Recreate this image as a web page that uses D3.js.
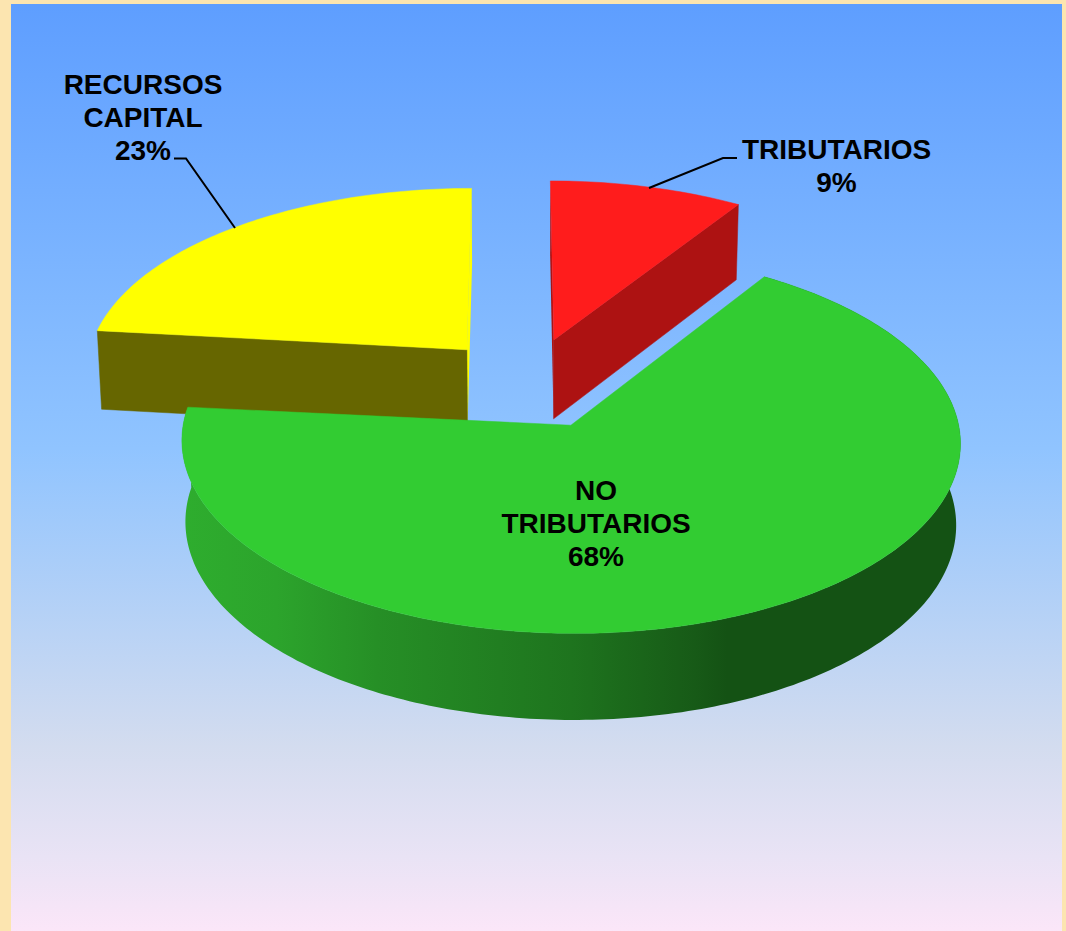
<!DOCTYPE html>
<html><head><meta charset="utf-8">
<script src="https://cdn.jsdelivr.net/npm/d3@7"></script>
<style>html,body{margin:0;padding:0;background:#FCE5B0;overflow:hidden}svg{display:block}
text{font-family:"Liberation Sans",Arial,sans-serif;font-weight:700;font-size:28px;fill:#000;text-anchor:middle}</style>
</head><body><script>
// ---- data
const categories = ["TRIBUTARIOS", "NO TRIBUTARIOS", "RECURSOS CAPITAL"];
const values = [9, 68, 23];
const percentLabels = ["9%", "68%", "23%"];

// ---- style and layout
const W = 1066, H = 931;
const topColors = ["#FF1C1C", "#32CC32", "#FFFF00"];
const sideColors = ["#AD1212", null, "#666600"];
const nudgeX = [-3.5, 0.5, -5];
const nudgeY = [1, 1, 1];
const apexShift = [[1.5, -4], [0, 0], [0, -3]];
const radiusScale = [1, 0.9935, 1];
const angleTrim = [[0, 0], [0.5, 1.7], [0, 0]]; // degrees taken off start and end of the drawn sweep
const labelLines = [["TRIBUTARIOS"], ["NO", "TRIBUTARIOS"], ["RECURSOS", "CAPITAL"]];
const labelAnchor = [[836.5, 159], [596, 500], [143, 94]];
const lineGap = 33;
const cx = 531, cy = 384, R = 383, tilt = 184, persp = 0.087, depth = 80, depthPersp = 0.7, explode = 0.237, shrink = 0.01;

const svg = d3.select("body").append("svg").attr("width", W).attr("height", H);
const defs = svg.append("defs");
const bg = defs.append("linearGradient").attr("id", "bg").attr("x1", 0).attr("x2", 0).attr("y1", 0).attr("y2", 1);
[[0, "#5E9EFF"], [0.48, "#90C4FF"], [0.8, "#D3DCEF"], [0.92, "#E9E3F5"], [1, "#FBE6F8"]].forEach(s => bg.append("stop").attr("offset", s[0]).attr("stop-color", s[1]));
const wall = defs.append("linearGradient").attr("id", "wall").attr("gradientUnits", "userSpaceOnUse")
  .attr("x1", 183).attr("x2", 960).attr("y1", 0).attr("y2", 0);
[[0, "#2EAD2E"], [0.12, "#2CA42C"], [0.25, "#268F26"], [0.5, "#1E741E"], [0.66, "#175A17"], [0.7, "#145214"], [1, "#145214"]]
  .forEach(s => wall.append("stop").attr("offset", s[0]).attr("stop-color", s[1]));

svg.append("rect").attr("x", 11).attr("y", 4).attr("width", 1051).attr("height", 927).attr("fill", "url(#bg)");

// ---- geometry: d3.pie gives the angles, a perspective projection places them
const arcs = d3.pie().sort(null)(values);
const sx = d3.scaleLinear().domain([0, 1]).range([0, R]);
const sy = d3.scaleLinear().domain([0, 1]).range([0, tilt]);
const rad = d => d * Math.PI / 180;

function project(u, v, down) {
  const s = 1 / (1 + persp * v);
  const k = down ? 1 - shrink : 1;
  return [cx + sx(u) * s * k, cy - sy(v) * s + (down ? depth * (1 + (s - 1) * depthPersp) : 0)];
}
function slice(a, i) {
  const mid = (a.startAngle + a.endAngle) / 2;
  const ou = explode * Math.sin(mid), ov = explode * Math.cos(mid);
  const start = a.startAngle + rad(angleTrim[i][0]), end = a.endAngle - rad(angleTrim[i][1]);
  const pt = (th, r, down) => {
    const rr = r * radiusScale[i];
    const p = project(ou + rr * Math.sin(th), ov + rr * Math.cos(th), down);
    const ax = r === 0 ? apexShift[i][0] : 0, ay = r === 0 ? apexShift[i][1] : 0;
    return [p[0] + nudgeX[i] + ax, p[1] + nudgeY[i] + ay];
  };
  const steps = Math.ceil((end - start) * 60);
  const ths = d3.range(steps + 1).map(k => start + (end - start) * k / steps);
  return {pt, ths};
}
const line = d3.line();
function poly(pts) { return line(pts) + "Z"; }

function drawSlice(i) {
  const a = arcs[i], {pt, ths} = slice(a, i);
  const g = svg.append("g");
  const apex = pt(0, 0, false), apexD = pt(0, 0, true);
  if (i === 0) {
    g.append("path").attr("d", poly([apex, apexD, pt(a.endAngle, 1, true), pt(a.endAngle, 1, false)]))
      .attr("fill", sideColors[0]).attr("stroke", sideColors[0]).attr("stroke-width", 0.5);
    g.append("path").attr("d", poly([apex, apexD, pt(a.startAngle, 1, true), pt(a.startAngle, 1, false)]))
      .attr("fill", sideColors[0]);
  }
  if (i === 2) {
    g.append("path").attr("d", poly([apex, apexD, pt(a.endAngle, 1, true), pt(a.endAngle, 1, false)]))
      .attr("fill", topColors[2]);
    g.append("path").attr("d", poly([apex, apexD, pt(a.startAngle, 1, true), pt(a.startAngle, 1, false)]))
      .attr("fill", sideColors[2]).attr("stroke", sideColors[2]).attr("stroke-width", 0.5);
  }
  if (i === 1) {
    const topPts = ths.map(t => pt(t, 1, false));
    const botPts = ths.map(t => pt(t, 1, true)).reverse();
    g.append("path").attr("d", poly(topPts.concat(botPts))).attr("fill", "url(#wall)");
  }
  g.append("path").attr("d", poly([apex].concat(ths.map(t => pt(t, 1, false)))))
    .attr("fill", topColors[i]).attr("stroke", topColors[i]).attr("stroke-width", 0.5);
}
[2, 0, 1].forEach(drawSlice);

// ---- leader lines
const leaders = [[[649, 188], [723, 158], [737, 158]], [[235, 228], [186, 158.5], [174, 158.5]]];
svg.selectAll("path.leader").data(leaders).join("path").attr("class", "leader")
  .attr("d", d => line(d)).attr("fill", "none").attr("stroke", "#000").attr("stroke-width", 2);

// ---- labels
categories.forEach((c, i) => {
  const lines = labelLines[i].concat([percentLabels[i]]);
  const t = svg.append("text");
  lines.forEach((l, k) => t.append("tspan").attr("x", labelAnchor[i][0]).attr("y", labelAnchor[i][1] + k * lineGap).text(l));
});
</script></body></html>
